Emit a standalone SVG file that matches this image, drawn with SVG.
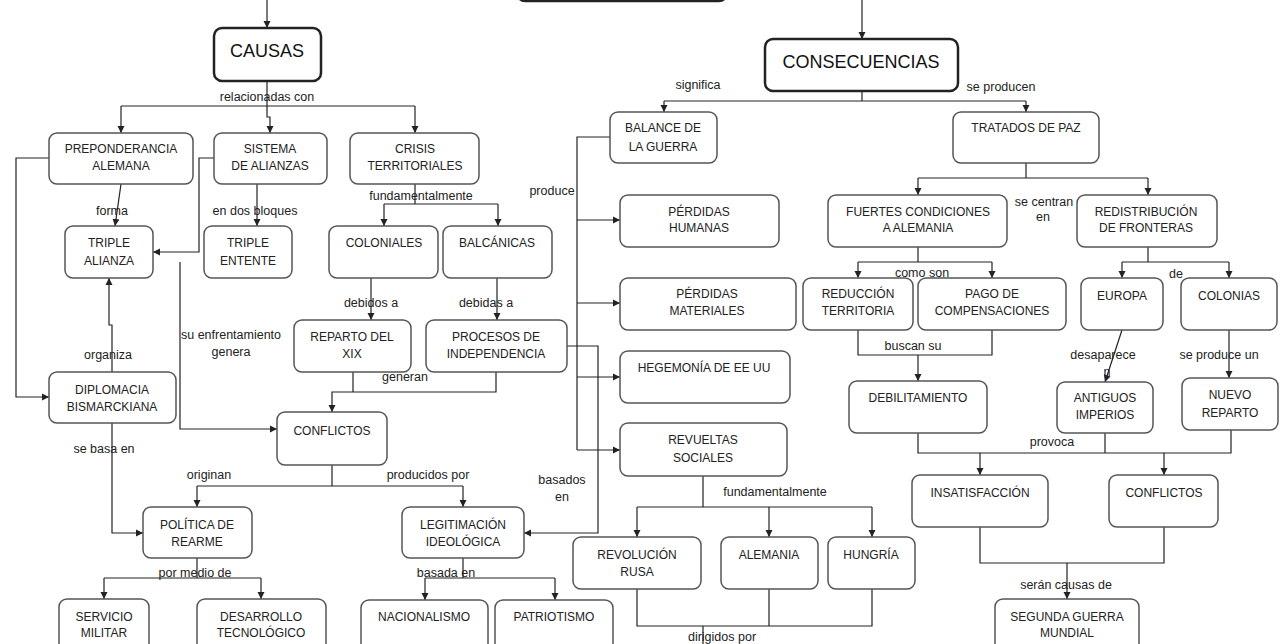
<svg xmlns="http://www.w3.org/2000/svg" width="1288" height="644" viewBox="0 0 1288 644">
<style>
.n rect{fill:#fff;stroke:#555;stroke-width:1.5}
.b rect{stroke:#222;stroke-width:2.5}
text{font-family:"Liberation Sans",Arial,sans-serif;font-size:12px;fill:#222;text-anchor:middle}
.big{font-size:18px;fill:#111}
.l text{font-size:12.5px}
.c path{fill:none;stroke:#222;stroke-width:1.2}
.c path.a{marker-end:url(#ar)}
</style>
<defs>
<marker id="ar" markerUnits="userSpaceOnUse" markerWidth="8" markerHeight="8" refX="7" refY="4" orient="auto">
<path d="M0,0.5 L7,4 L0,7.5 z" fill="#222"/>
</marker>
</defs>
<rect width="1288" height="644" fill="#fff"/>

<g class="c">
<path class="a" d="M267,0 V28"/>
<path class="a" d="M862,0 V39"/>
<path d="M267,81 V106 M121,106 H415"/>
<path class="a" d="M121,106 V133"/>
<path class="a" d="M415,106 V133"/>
<path class="a" d="M267,106 V117 H270 V133"/>
<path class="a" d="M49,158 H16 V397 H49"/>
<path class="a" d="M214,158 H199 V252 H153"/>
<path class="a" d="M121,184 L115,226"/>
<path class="a" d="M257,184 V226"/>
<path class="a" d="M180,262 V429 H277"/>
<path class="a" d="M112,372 V325 H109 V278"/>
<path class="a" d="M112,423 V533 H143"/>
<path d="M415,184 V204 M384,204 H498"/>
<path class="a" d="M384,204 V226"/>
<path class="a" d="M498,204 V226"/>
<path class="a" d="M371,278 V320"/>
<path class="a" d="M497,278 V320"/>
<path d="M353,372 V392"/>
<path class="a" d="M496,372 V392 H332 V412"/>
<path d="M332,465 V486 M197,486 H463"/>
<path class="a" d="M197,486 V507"/>
<path class="a" d="M463,486 V507"/>
<path class="a" d="M567,346 H598 V533 H524"/>
<path d="M197,558 V578 M104,578 H261"/>
<path class="a" d="M104,578 V599"/>
<path class="a" d="M261,578 V599"/>
<path d="M463,558 V578 M425,578 H555"/>
<path class="a" d="M425,578 V600"/>
<path class="a" d="M555,578 V600"/>
<path d="M862,91 V101 M664,101 H1026"/>
<path class="a" d="M664,101 V112"/>
<path class="a" d="M1026,101 V112"/>
<path d="M610,137 H577 V450"/>
<path class="a" d="M577,220 H620"/>
<path class="a" d="M577,303 H620"/>
<path class="a" d="M577,377 H620"/>
<path class="a" d="M577,450 H620"/>
<path d="M703,476 V507 M637,507 H872"/>
<path class="a" d="M637,507 V537"/>
<path class="a" d="M769,507 V537"/>
<path class="a" d="M872,507 V537"/>
<path d="M637,589 V626 H872 V589 M769,589 V626 M703,626 V644"/>
<path d="M1026,163 V178 M918,178 H1148"/>
<path class="a" d="M918,178 V195"/>
<path class="a" d="M1148,178 V195"/>
<path d="M918,247 V262 M858,262 H992"/>
<path class="a" d="M858,262 V278"/>
<path class="a" d="M992,262 V278"/>
<path d="M858,330 V355 H992 V330"/>
<path class="a" d="M918,355 V381"/>
<path d="M1148,247 V262 M1122,262 H1229"/>
<path class="a" d="M1122,262 V278"/>
<path class="a" d="M1229,262 V278"/>
<path class="a" d="M1122,330 L1105,382"/>
<path class="a" d="M1229,330 V378"/>
<path d="M918,433 V453 H1231 V430 M1105,433 V453"/>
<path class="a" d="M980,453 V475"/>
<path class="a" d="M1164,453 V475"/>
<path d="M980,527 V563 H1164 V527"/>
<path class="a" d="M1067,563 V599"/>
</g>

<g class="l">
<text x="267" y="101">relacionadas con</text>
<text x="112" y="215">forma</text>
<text x="255" y="215">en dos bloques</text>
<text x="421" y="200">fundamentalmente</text>
<text x="371" y="307">debidos a</text>
<text x="486" y="307">debidas a</text>
<text x="405" y="381">generan</text>
<text x="231" y="339">su enfrentamiento</text>
<text x="231" y="356">genera</text>
<text x="108" y="359">organiza</text>
<text x="104" y="453">se basa en</text>
<text x="209" y="479">originan</text>
<text x="428" y="479">producidos por</text>
<text x="562" y="484">basados</text>
<text x="562" y="501">en</text>
<text x="195" y="577">por medio de</text>
<text x="446" y="577">basada en</text>
<text x="698" y="89">significa</text>
<text x="1001" y="91">se producen</text>
<text x="552" y="195">produce</text>
<text x="775" y="496">fundamentalmente</text>
<text x="722" y="641">dirigidos por</text>
<text x="1044" y="206">se centran</text>
<text x="1043" y="221">en</text>
<text x="922" y="277">como son</text>
<text x="913" y="350">buscan su</text>
<text x="1176" y="278">de</text>
<text x="1103" y="359">desaparece</text>
<text x="1107" y="376">n</text>
<text x="1219" y="359">se produce un</text>
<text x="1052" y="446">provoca</text>
<text x="1066" y="589">serán causas de</text>
</g>

<g id="top" class="n b"><rect x="517" y="-40" width="210" height="41" rx="8"/></g>
<g id="causas" class="n b"><rect x="214" y="28" width="107" height="53" rx="8"/><text class="big" x="267" y="57">CAUSAS</text></g>
<g id="consecuencias" class="n b"><rect x="765" y="39" width="193" height="52" rx="8"/><text class="big" x="861" y="68">CONSECUENCIAS</text></g>

<g id="preponderancia" class="n"><rect x="49" y="133" width="144" height="51" rx="8"/><text x="121" y="153">PREPONDERANCIA</text><text x="121" y="170">ALEMANA</text></g>
<g id="sistema" class="n"><rect x="214" y="133" width="113" height="51" rx="8"/><text x="270" y="153">SISTEMA</text><text x="270" y="170">DE ALIANZAS</text></g>
<g id="crisis" class="n"><rect x="350" y="133" width="129" height="51" rx="8"/><text x="415" y="153">CRISIS</text><text x="415" y="170">TERRITORIALES</text></g>
<g id="triplealianza" class="n"><rect x="65" y="226" width="88" height="52" rx="8"/><text x="109" y="247">TRIPLE</text><text x="109" y="265">ALIANZA</text></g>
<g id="tripleentente" class="n"><rect x="204" y="226" width="88" height="52" rx="8"/><text x="248" y="247">TRIPLE</text><text x="248" y="265">ENTENTE</text></g>
<g id="coloniales" class="n"><rect x="329" y="226" width="109" height="52" rx="8"/><text x="384" y="247">COLONIALES</text></g>
<g id="balcanicas" class="n"><rect x="443" y="226" width="109" height="52" rx="8"/><text x="497" y="247">BALCÁNICAS</text></g>
<g id="reparto" class="n"><rect x="294" y="320" width="117" height="52" rx="8"/><text x="352" y="341">REPARTO DEL</text><text x="352" y="358">XIX</text></g>
<g id="procesos" class="n"><rect x="426" y="320" width="141" height="52" rx="8"/><text x="496" y="341">PROCESOS DE</text><text x="496" y="358">INDEPENDENCIA</text></g>
<g id="conflictosL" class="n"><rect x="277" y="412" width="110" height="53" rx="8"/><text x="332" y="435">CONFLICTOS</text></g>
<g id="diplomacia" class="n"><rect x="49" y="372" width="127" height="51" rx="8"/><text x="112" y="394">DIPLOMACIA</text><text x="112" y="411">BISMARCKIANA</text></g>
<g id="politica" class="n"><rect x="143" y="507" width="109" height="51" rx="8"/><text x="197" y="529">POLÍTICA DE</text><text x="197" y="546">REARME</text></g>
<g id="legitimacion" class="n"><rect x="402" y="507" width="122" height="51" rx="8"/><text x="463" y="529">LEGITIMACIÓN</text><text x="463" y="546">IDEOLÓGICA</text></g>
<g id="servicio" class="n"><rect x="59" y="599" width="90" height="60" rx="8"/><text x="104" y="621">SERVICIO</text><text x="104" y="637">MILITAR</text></g>
<g id="desarrollo" class="n"><rect x="197" y="599" width="129" height="60" rx="8"/><text x="261" y="621">DESARROLLO</text><text x="261" y="637">TECNOLÓGICO</text></g>
<g id="nacionalismo" class="n"><rect x="361" y="600" width="127" height="60" rx="8"/><text x="424" y="621">NACIONALISMO</text></g>
<g id="patriotismo" class="n"><rect x="495" y="600" width="118" height="60" rx="8"/><text x="554" y="621">PATRIOTISMO</text></g>

<g id="balance" class="n"><rect x="610" y="112" width="107" height="51" rx="8"/><text x="663" y="132">BALANCE DE</text><text x="663" y="151">LA GUERRA</text></g>
<g id="tratados" class="n"><rect x="953" y="112" width="146" height="51" rx="8"/><text x="1026" y="132">TRATADOS DE PAZ</text></g>
<g id="perdidash" class="n"><rect x="620" y="195" width="159" height="52" rx="8"/><text x="699" y="216">PÉRDIDAS</text><text x="699" y="232">HUMANAS</text></g>
<g id="perdidasm" class="n"><rect x="620" y="278" width="176" height="52" rx="8"/><text x="707" y="298">PÉRDIDAS</text><text x="707" y="315">MATERIALES</text></g>
<g id="hegemonia" class="n"><rect x="620" y="351" width="170" height="52" rx="8"/><text x="704" y="372">HEGEMONÍA DE EE UU</text></g>
<g id="revueltas" class="n"><rect x="620" y="423" width="167" height="53" rx="8"/><text x="703" y="444">REVUELTAS</text><text x="703" y="462">SOCIALES</text></g>
<g id="revolucion" class="n"><rect x="573" y="537" width="128" height="52" rx="8"/><text x="637" y="559">REVOLUCIÓN</text><text x="637" y="576">RUSA</text></g>
<g id="alemania" class="n"><rect x="721" y="537" width="97" height="52" rx="8"/><text x="769" y="559">ALEMANIA</text></g>
<g id="hungria" class="n"><rect x="828" y="537" width="87" height="52" rx="8"/><text x="871" y="559">HUNGRÍA</text></g>
<g id="fuertes" class="n"><rect x="828" y="195" width="179" height="52" rx="8"/><text x="918" y="216">FUERTES CONDICIONES</text><text x="918" y="232">A ALEMANIA</text></g>
<g id="redistribucion" class="n"><rect x="1077" y="195" width="140" height="52" rx="8"/><text x="1146" y="216">REDISTRIBUCIÓN</text><text x="1146" y="232">DE FRONTERAS</text></g>
<g id="reduccion" class="n"><rect x="803" y="278" width="110" height="52" rx="8"/><text x="858" y="298">REDUCCIÓN</text><text x="858" y="315">TERRITORIA</text></g>
<g id="pago" class="n"><rect x="918" y="278" width="148" height="52" rx="8"/><text x="992" y="298">PAGO DE</text><text x="992" y="315">COMPENSACIONES</text></g>
<g id="debilitamiento" class="n"><rect x="849" y="381" width="138" height="52" rx="8"/><text x="918" y="402">DEBILITAMIENTO</text></g>
<g id="europa" class="n"><rect x="1081" y="278" width="82" height="52" rx="8"/><text x="1122" y="300">EUROPA</text></g>
<g id="colonias" class="n"><rect x="1181" y="278" width="96" height="52" rx="8"/><text x="1229" y="300">COLONIAS</text></g>
<g id="antiguos" class="n"><rect x="1057" y="382" width="96" height="51" rx="8"/><text x="1105" y="402">ANTIGUOS</text><text x="1105" y="419">IMPERIOS</text></g>
<g id="nuevo" class="n"><rect x="1182" y="378" width="96" height="52" rx="8"/><text x="1230" y="399">NUEVO</text><text x="1230" y="417">REPARTO</text></g>
<g id="insatisfaccion" class="n"><rect x="912" y="475" width="136" height="52" rx="8"/><text x="980" y="497">INSATISFACCIÓN</text></g>
<g id="conflictosR" class="n"><rect x="1109" y="475" width="109" height="52" rx="8"/><text x="1164" y="497">CONFLICTOS</text></g>
<g id="segunda" class="n"><rect x="995" y="599" width="144" height="60" rx="8"/><text x="1067" y="621">SEGUNDA GUERRA</text><text x="1067" y="637">MUNDIAL</text></g>
</svg>
